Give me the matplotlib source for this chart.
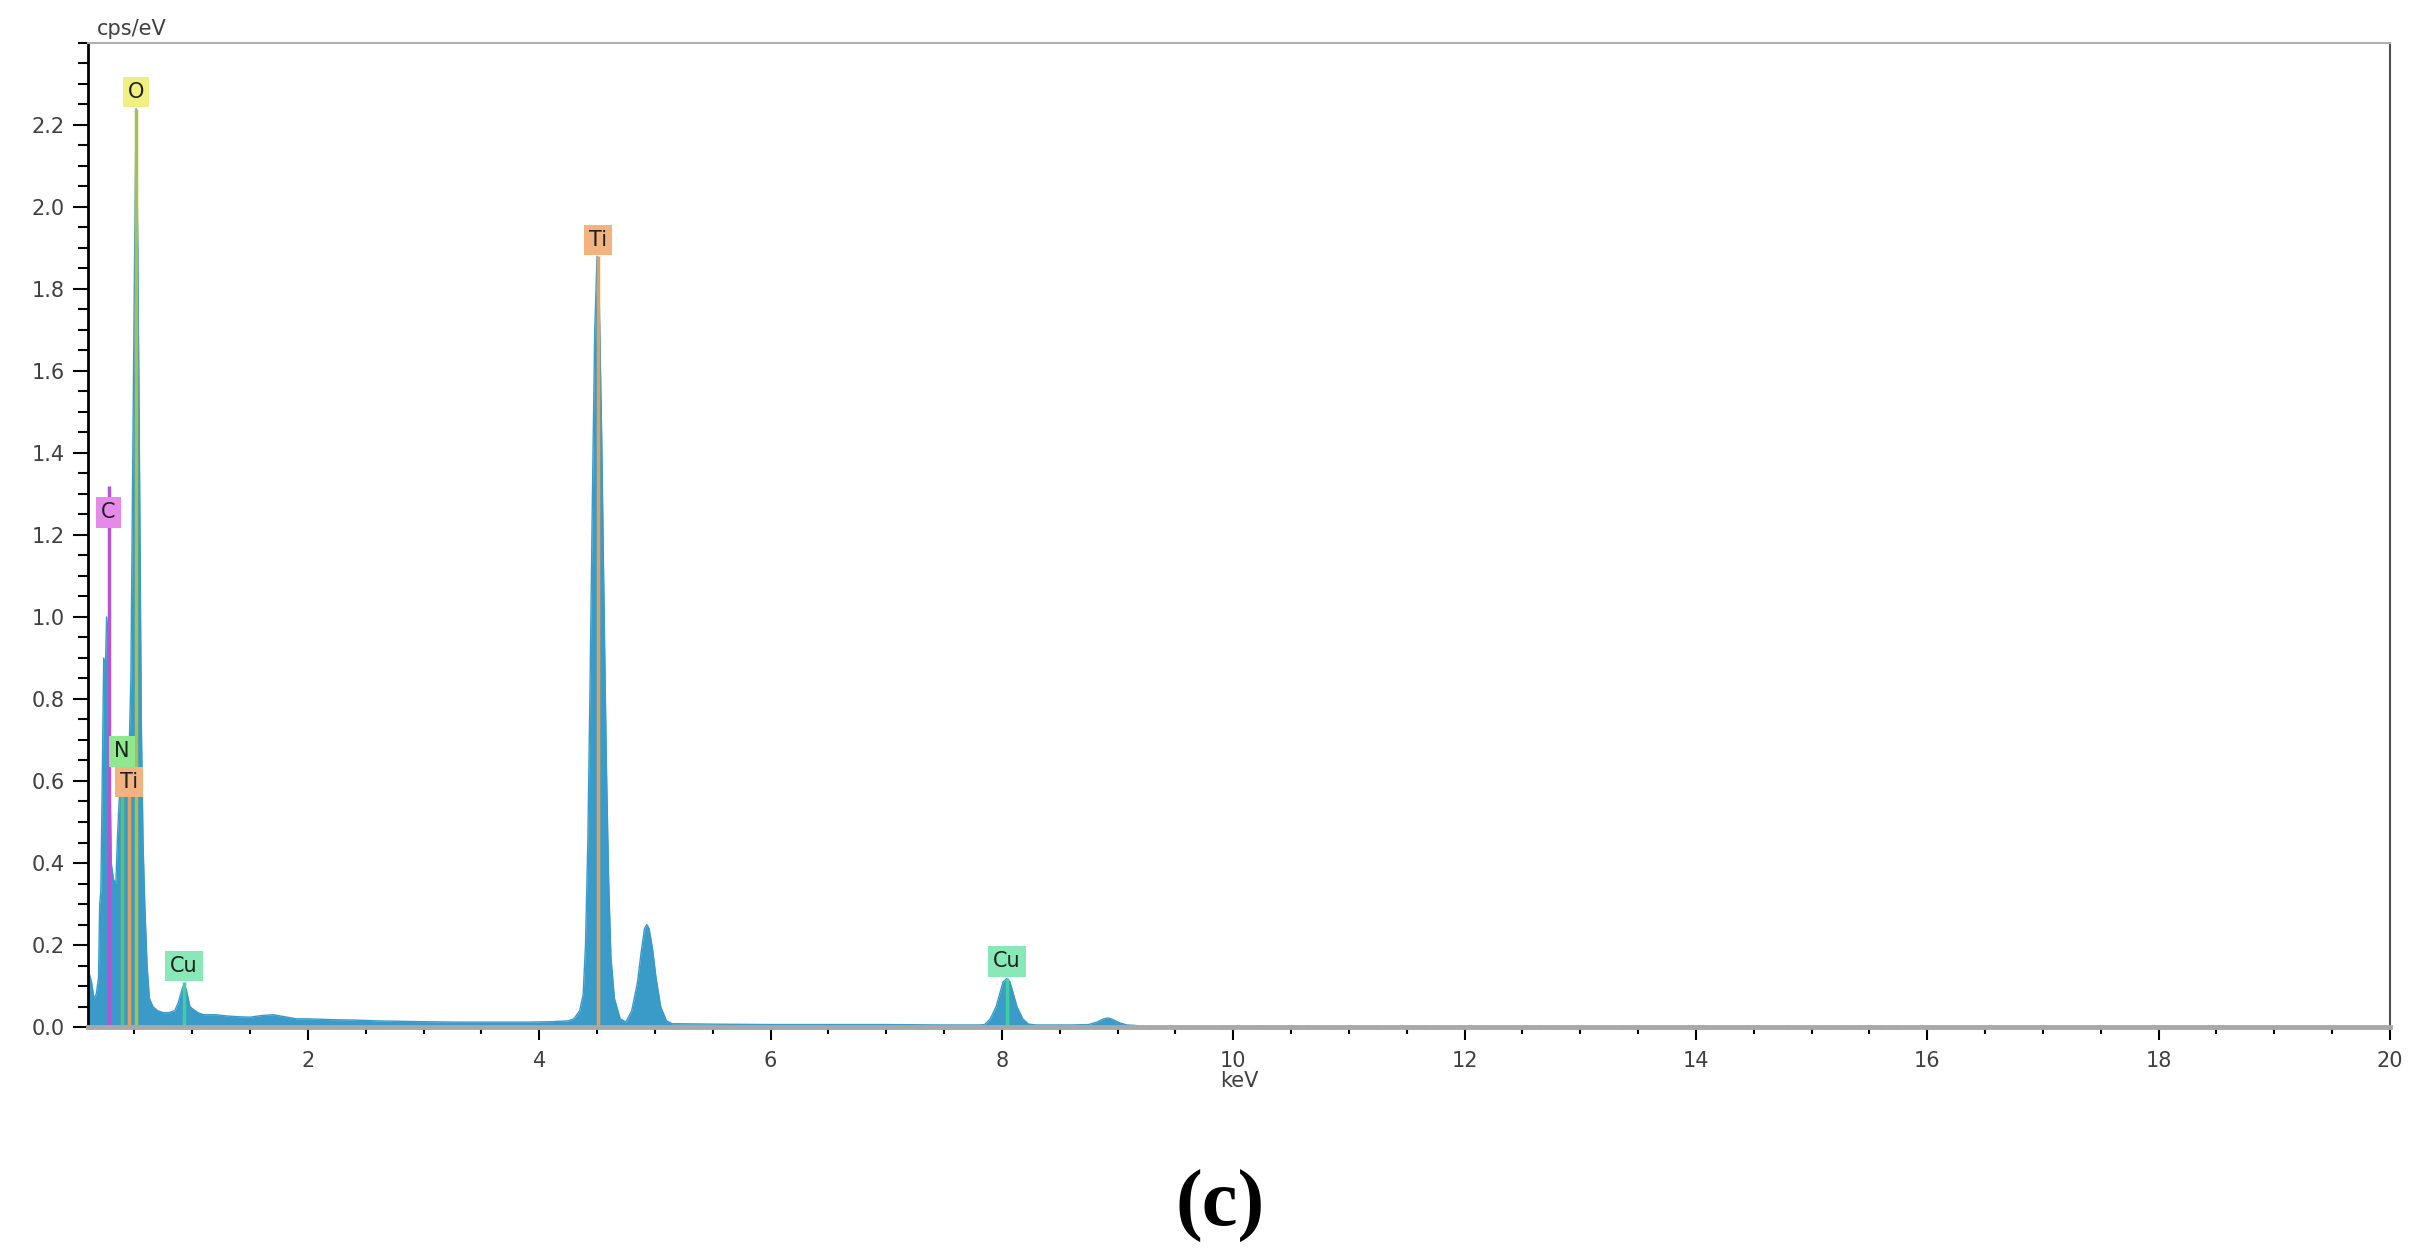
import numpy as np
import matplotlib.pyplot as plt
from matplotlib.ticker import MultipleLocator

# EDS spectrum (keV, cps/eV)
energy = [0.10, 0.11, 0.13, 0.15, 0.17, 0.19, 0.20, 0.21, 0.22, 0.235,
          0.25, 0.26, 0.275, 0.29, 0.30, 0.32, 0.34, 0.355, 0.37, 0.39,
          0.41, 0.43, 0.45, 0.47, 0.485, 0.50, 0.515, 0.53, 0.545, 0.56,
          0.575, 0.59, 0.61, 0.63, 0.66, 0.70, 0.75, 0.80, 0.85, 0.88,
          0.91, 0.93, 0.95, 0.98, 1.00, 1.05, 1.10, 1.20, 1.30, 1.40,
          1.50, 1.60, 1.70, 1.80, 1.90, 2.00, 2.20, 2.40, 2.60, 2.80,
          3.00, 3.30, 3.60, 3.90, 4.10, 4.25, 4.30, 4.35, 4.38, 4.40,
          4.42, 4.44, 4.46, 4.48, 4.50, 4.52, 4.54, 4.56, 4.58, 4.60,
          4.62, 4.65, 4.70, 4.75, 4.80, 4.85, 4.88, 4.91, 4.93, 4.95,
          4.98, 5.01, 5.05, 5.10, 5.15, 5.20, 5.50, 6.00, 6.50, 7.00,
          7.50, 7.80, 7.85, 7.90, 7.95, 7.98, 8.01, 8.04, 8.07, 8.10,
          8.13, 8.18, 8.23, 8.30, 8.60, 8.75, 8.82, 8.88, 8.92, 8.96,
          9.02, 9.08, 9.15, 9.25]
cps = [0.10, 0.13, 0.11, 0.07, 0.08, 0.12, 0.30, 0.33, 0.55, 0.90,
       0.88, 1.00, 0.95, 0.60, 0.40, 0.36, 0.35, 0.47, 0.56, 0.58,
       0.57, 0.58, 0.62, 0.85, 1.35, 1.82, 2.24, 1.90, 1.35, 0.75,
       0.45, 0.30, 0.15, 0.07, 0.05, 0.04, 0.035, 0.035, 0.04, 0.06,
       0.09, 0.105, 0.09, 0.05, 0.045, 0.035, 0.03, 0.03, 0.027, 0.025,
       0.024, 0.028, 0.03, 0.025, 0.02, 0.02, 0.018, 0.017, 0.015, 0.014,
       0.013, 0.012, 0.012, 0.012, 0.013, 0.015, 0.02, 0.04, 0.08, 0.20,
       0.45, 0.85, 1.30, 1.70, 1.88, 1.76, 1.44, 1.04, 0.65, 0.36,
       0.17, 0.07, 0.02, 0.012, 0.04, 0.11, 0.18, 0.24, 0.25, 0.24,
       0.19, 0.12, 0.05, 0.015, 0.008, 0.008, 0.007, 0.006, 0.006, 0.006,
       0.005, 0.005, 0.006, 0.02, 0.05, 0.08, 0.11, 0.118, 0.11, 0.08,
       0.05, 0.02, 0.007, 0.005, 0.005, 0.006, 0.012, 0.02, 0.022, 0.018,
       0.01, 0.005, 0.004, 0.0]

# sparse noise counts above ~9 keV
noise_E = [9.05, 9.15, 9.29, 9.49, 9.59, 9.91, 10.2, 10.26, 10.32, 10.38,
           10.43, 10.55, 10.65, 10.87, 11.02, 11.24, 11.37, 11.66, 11.76, 11.86,
           11.96, 12.03, 12.16, 12.43, 12.53, 12.59, 12.65, 12.8, 12.95, 13.1,
           13.37, 13.52, 13.61, 14.08, 14.45, 14.53, 14.8, 14.97, 15.15, 15.29,
           15.42, 15.52, 15.6, 15.68, 15.74]
noise_h = 0.006

# element markers
elements = ['C', 'N', 'Ti', 'O', 'Cu', 'Ti', 'Cu']
elem_E = [0.277, 0.392, 0.452, 0.515, 0.93, 4.51, 8.04]
line_top = [1.32, 0.64, 0.57, 2.24, 0.11, 1.88, 0.12]
label_y = [1.255, 0.672, 0.597, 2.28, 0.149, 1.92, 0.16]
box_colors = ['#e58ae8', '#8fe88f', '#f2b380', '#f0f080', '#88e8b8', '#f2b380', '#88e8b8']
line_colors = ['#b455d6', '#5cc070', '#e0a060', '#a8c050', '#40d0a0', '#e0a060', '#40d0a0']

y_ticks = [0.0, 0.2, 0.4, 0.6, 0.8, 1.0, 1.2, 1.4, 1.6, 1.8, 2.0, 2.2]
x_ticks = [2, 4, 6, 8, 10, 12, 14, 16, 18, 20]

fig = plt.figure(figsize=(24.2, 12.52), dpi=100)
ax = fig.add_axes([0.0364, 0.1797, 0.9512, 0.786])

ax.fill_between(energy, 0, cps, color='#3a9bc8', lw=0)
ax.plot(energy, cps, color='#3a9bc8', lw=1)
ax.vlines(noise_E, 0, noise_h, color='#9aaab8', lw=1.5)

for name, e, top, ly, bc, lc in zip(elements, elem_E, line_top, label_y, box_colors, line_colors):
    ax.vlines(e, 0, top, color=lc, lw=2.5)
    ax.text(e, ly, name, ha='center', va='center', fontsize=15, color='#202020',
            bbox=dict(boxstyle='square,pad=0.25', fc=bc, ec='none'))

ax.set_xlim(0.1, 20)
ax.set_ylim(0, 2.4)
ax.set_xticks(x_ticks)
ax.set_xticklabels([str(t) for t in x_ticks])
ax.set_yticks(y_ticks)
ax.set_yticklabels([f'{t:.1f}' for t in y_ticks])
ax.xaxis.set_minor_locator(MultipleLocator(0.5))
ax.yaxis.set_minor_locator(MultipleLocator(0.05))
ax.tick_params(axis='y', which='major', length=11, width=1.5, color='black',
               labelsize=15, labelcolor='#404040', pad=6)
ax.tick_params(axis='y', which='minor', length=7, width=1.5, color='black')
ax.tick_params(axis='x', which='major', length=9, width=1.5, color='black',
               labelsize=15, labelcolor='#404040', pad=8)
ax.tick_params(axis='x', which='minor', length=5, width=1.5, color='black')

ax.spines['left'].set_color('black')
ax.spines['left'].set_linewidth(2)
ax.spines['bottom'].set_color('#a8a8a8')
ax.spines['bottom'].set_linewidth(3.5)
ax.spines['top'].set_color('#b0b0b0')
ax.spines['top'].set_linewidth(1.5)
ax.spines['right'].set_color('#505050')
ax.spines['right'].set_linewidth(1.5)

ax.set_xlabel('keV', fontsize=15, color='#404040', labelpad=0)
ax.text(0.004, 1.004, 'cps/eV', transform=ax.transAxes, ha='left', va='bottom',
        fontsize=15, color='#404040')

fig.text(0.504, 0.036, '(c)', ha='center', va='center', fontsize=58,
         fontweight='bold', family='Liberation Serif')

fig.savefig('out.png', dpi=100)
